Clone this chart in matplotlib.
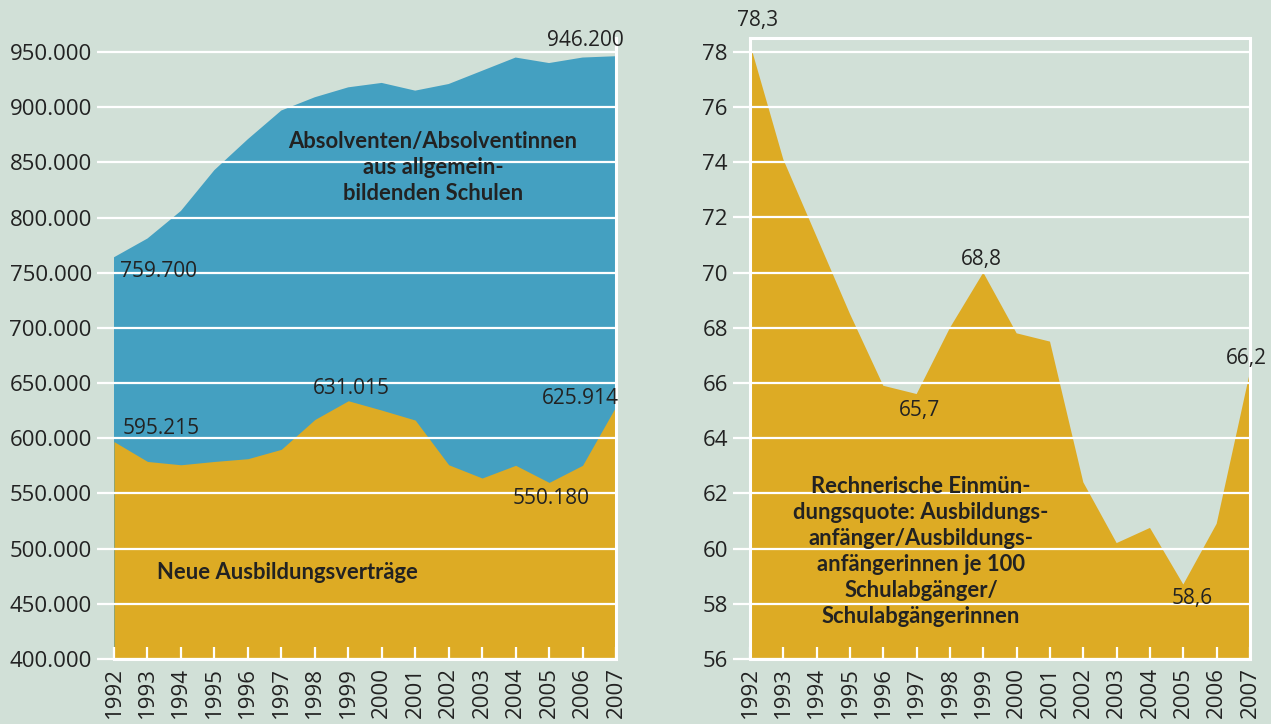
import matplotlib.pyplot as plt
from matplotlib.ticker import FixedLocator, FuncFormatter

# Daten
jahre = list(range(1992, 2008))
absolventen = [764000, 781000, 806000, 843000, 871000, 897000, 909000, 918000,
               922000, 915000, 921000, 933000, 945000, 940000, 945000, 946200]
vertraege = [597000, 579000, 576000, 579000, 581500, 590000, 617000, 634000,
             625500, 616500, 576000, 564000, 575500, 560000, 575500, 629000]
quote = [78.3, 74.1, 71.3, 68.5, 65.9, 65.6, 68.0, 70.0,
         67.8, 67.5, 62.4, 60.2, 60.75, 58.7, 60.9, 66.4]

links_ticks = list(range(400000, 950001, 50000))
rechts_ticks = list(range(56, 79, 2))

# Beschriftungen: (text, x, y, ha)
links_labels = [
    ('946.200', 2006.07, 960500, 'center'),
    ('759.700', 1992.18, 750700, 'left'),
    ('595.215', 1992.27, 609300, 'left'),
    ('631.015', 1999.1, 644700, 'center'),
    ('625.914', 2005.95, 635600, 'center'),
    ('550.180', 2005.06, 545000, 'center'),
]
rechts_labels = [
    ('78,3', 1992.24, 79.15, 'center'),
    ('68,8', 1998.93, 70.46, 'center'),
    ('65,7', 1997.1, 65.02, 'center'),
    ('66,2', 2006.28, 66.9, 'left'),
    ('58,6', 2005.26, 58.2, 'center'),
]

BG = '#d1e0d7'
BLAU = '#44a0c1'
GELB = '#ddab24'
TEXT = '#222222'
FETT = ['Lato', 'DejaVu Sans']

plt.rcParams['font.family'] = ['Open Sans', 'DejaVu Sans']

fig = plt.figure(figsize=(12.71, 7.24), dpi=100, facecolor=BG)
ax1 = fig.add_axes([114 / 1271, 65 / 724, 502 / 1271, 621 / 724])
ax2 = fig.add_axes([750 / 1271, 65 / 724, 500 / 1271, 621 / 724])


def style_axes(ax):
    ax.set_facecolor(BG)
    ax.set_axisbelow(False)
    ax.set_xlim(1992, 2007)
    ax.set_xticks(jahre)
    ax.set_xticklabels([str(j) for j in jahre], rotation=90)
    ax.xaxis.set_minor_locator(FixedLocator(list(range(1994, 2007, 2))))
    ax.grid(True, axis='y', color='white', lw=1.6)
    ax.grid(True, axis='x', which='minor', color='white', lw=1.6)
    ax.tick_params(axis='x', which='major', direction='in', length=9, width=1.6,
                   color='white', labelsize=16, labelcolor=TEXT, pad=6)
    ax.tick_params(axis='x', which='minor', length=0)
    ax.tick_params(axis='y', direction='out', length=12, width=1.6,
                   color='white', labelsize=16, labelcolor=TEXT, pad=4)
    for s in ax.spines.values():
        s.set_color('white')
        s.set_linewidth(2.2)


# Linke Grafik
style_axes(ax1)
ax1.fill_between(jahre, 0, absolventen, color=BLAU, lw=0)
ax1.fill_between(jahre, 0, vertraege, color=GELB, lw=0)
ax1.set_ylim(400000, 962700)
ax1.set_yticks(links_ticks)
ax1.yaxis.set_major_formatter(FuncFormatter(lambda v, p: f'{int(v):,}'.replace(',', '.')))
ax1.spines['top'].set_visible(False)
ax1.spines['left'].set_visible(False)

for t, x, y, ha in links_labels:
    ax1.text(x, y, t, ha=ha, va='center', fontsize=15, color=TEXT, clip_on=False)

ax1.text(2001.53, 845000, 'Absolventen/Absolventinnen\naus allgemein-\nbildenden Schulen',
         ha='center', va='center', fontsize=15.8, fontweight='bold', color=TEXT,
         family=FETT, linespacing=1.3)
ax1.text(1997.17, 478000, 'Neue Ausbildungsverträge', ha='center', va='center',
         fontsize=15.8, fontweight='bold', color=TEXT, family=FETT)

# Rechte Grafik
style_axes(ax2)
ax2.fill_between(jahre, 0, quote, color=GELB, lw=0)
ax2.set_ylim(56, 78.5)
ax2.set_yticks(rechts_ticks)

for t, x, y, ha in rechts_labels:
    ax2.text(x, y, t, ha=ha, va='center', fontsize=15, color=TEXT, clip_on=False)

ax2.text(1997.13, 59.9,
         'Rechnerische Einmün-\ndungsquote: Ausbildungs-\nanfänger/Ausbildungs-\n'
         'anfängerinnen je 100\nSchulabgänger/\nSchulabgängerinnen',
         ha='center', va='center', fontsize=15.8, fontweight='bold', color=TEXT,
         family=FETT, linespacing=1.3)

fig.savefig('out.png', dpi=100, facecolor=BG)
